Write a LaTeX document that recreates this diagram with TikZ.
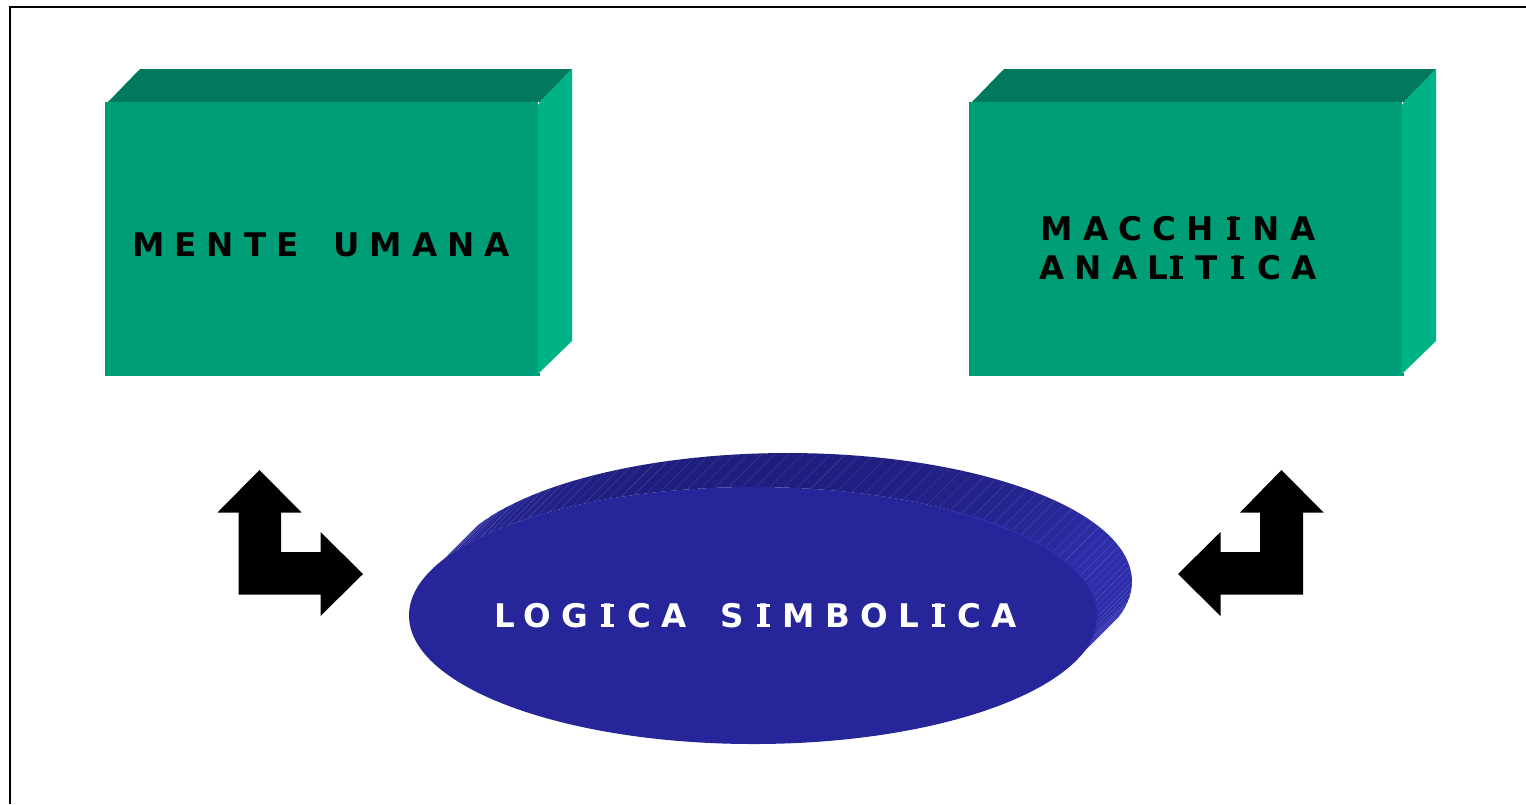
\documentclass[tikz,border=0pt]{standalone}
\usepackage{fontspec}
\newfontfamily\lab[LetterSpace=31,WordSpace=1.6]{DejaVu Sans Bold}
% capital I with small slab serifs, as in the reference's typeface
\newcommand{\slabI}{\kern.05em\rlap{\rule{.4em}{.105em}}\rlap{\raisebox{.624em}{\rule{.4em}{.105em}}}\kern.014em I\kern.014em\kern .40em}
\newcommand{\serifI}{\kern .35em\slabI}
\definecolor{frontgreen}{HTML}{009E77}
\definecolor{topgreen}{HTML}{00795C}
\definecolor{sidegreen}{HTML}{00B386}
\definecolor{ovalblue}{HTML}{26269A}
\definecolor{rimdark}{HTML}{1F1F80}
\definecolor{rimlight}{HTML}{2E2EAC}
\tikzset{
  front/.style={fill=frontgreen},
  topface/.style={fill=topgreen},
  sideface/.style={fill=sidegreen},
  bent/.style={fill=black},
  caption/.style={font=\lab\fontsize{24.4}{29.25}\selectfont,inner sep=0pt,align=center,text=black},
}
\begin{document}
\begin{tikzpicture}[x=0.75pt,y=-0.75pt]
\useasboundingbox (0,0) rectangle (1526,804);
\fill[white] (0,0) rectangle (1526,804);
% frame
\draw[line width=1.5pt,black] (10,804) -- (10,7) -- (1526,7);
% left box
\path[topface] (108,102) -- (140,69) -- (572,69) -- (540,102) -- cycle;
\path[front] (105,102) rectangle (538,376);
\path[front] (538,373) rectangle (540,376);
\path[sideface] (537.5,106) -- (540,102) -- (572,69) -- (572,341) -- (540,372) -- (537.5,374) -- cycle;
% right box
\path[topface] (972,102) -- (1004,69) -- (1436,69) -- (1404,102) -- cycle;
\path[front] (969,102) rectangle (1402,376);
\path[front] (1402,373) rectangle (1404,376);
\path[sideface] (1401.5,106) -- (1404,102) -- (1436,69) -- (1436,341) -- (1404,372) -- (1401.5,374) -- cycle;
% oval extrusion strips
\foreach \t in {206,208.3,...,374.4}{
  \pgfmathsetmacro{\tn}{\t+2.4}
  \pgfmathsetmacro{\f}{min(100,100*abs(cos(\t))^4+ (cos(\t)>0 ? 25*abs(cos(\t)) : 0))}
  \colorlet{stripcol}{rimlight!\f!rimdark}
  \fill[stripcol]
    ({753.5+344.5*cos(\t)},{615.5+128.5*sin(\t)}) --
    ({787.5+344.5*cos(\t)},{581.5+128.5*sin(\t)}) --
    ({787.5+344.5*cos(\tn)},{581.5+128.5*sin(\tn)}) --
    ({753.5+344.5*cos(\tn)},{615.5+128.5*sin(\tn)}) -- cycle;
  \draw[white,opacity=0.14,line width=0.3pt]
    ({753.5+344.5*cos(\t)},{615.5+128.5*sin(\t)}) --
    ({787.5+344.5*cos(\t)},{581.5+128.5*sin(\t)});
}
\fill[ovalblue] (753.5,615.5) ellipse [x radius=344.5, y radius=128.5];
% lighter rim of the front face
\draw[rimlight,line width=1pt] plot[domain=-55:12,samples=40] ({753.5+344*cos(\x)},{615.5+128*sin(\x)});
% bent arrows
\path[bent] (259.5,470) -- (301.5,512.5) -- (281,512.5) -- (281,552) -- (320.5,552) -- (320.5,532) -- (363,574) -- (320.5,616) -- (320.5,594.5) -- (238.5,594.5) -- (238.5,512.5) -- (217.5,512.5) -- cycle;
\path[bent] (1281.5,470) -- (1323.5,512.5) -- (1303,512.5) -- (1303,594.5) -- (1220.5,594.5) -- (1220.5,616) -- (1178,574) -- (1220.5,532) -- (1220.5,552) -- (1260,552) -- (1260,512.5) -- (1240,512.5) -- cycle;
% labels
\node[caption] (mente) at (321,244.5) {MENTE UMANA};
\node[caption] (macchina) at (1178,248) {MACCH\serifI NA\\ANAL\slabI T\serifI CA};
\node[caption,text=white] (logica) at (755.5,615.5) {LOG\serifI CA S\serifI MBOL\serifI CA};
\end{tikzpicture}
\end{document}
